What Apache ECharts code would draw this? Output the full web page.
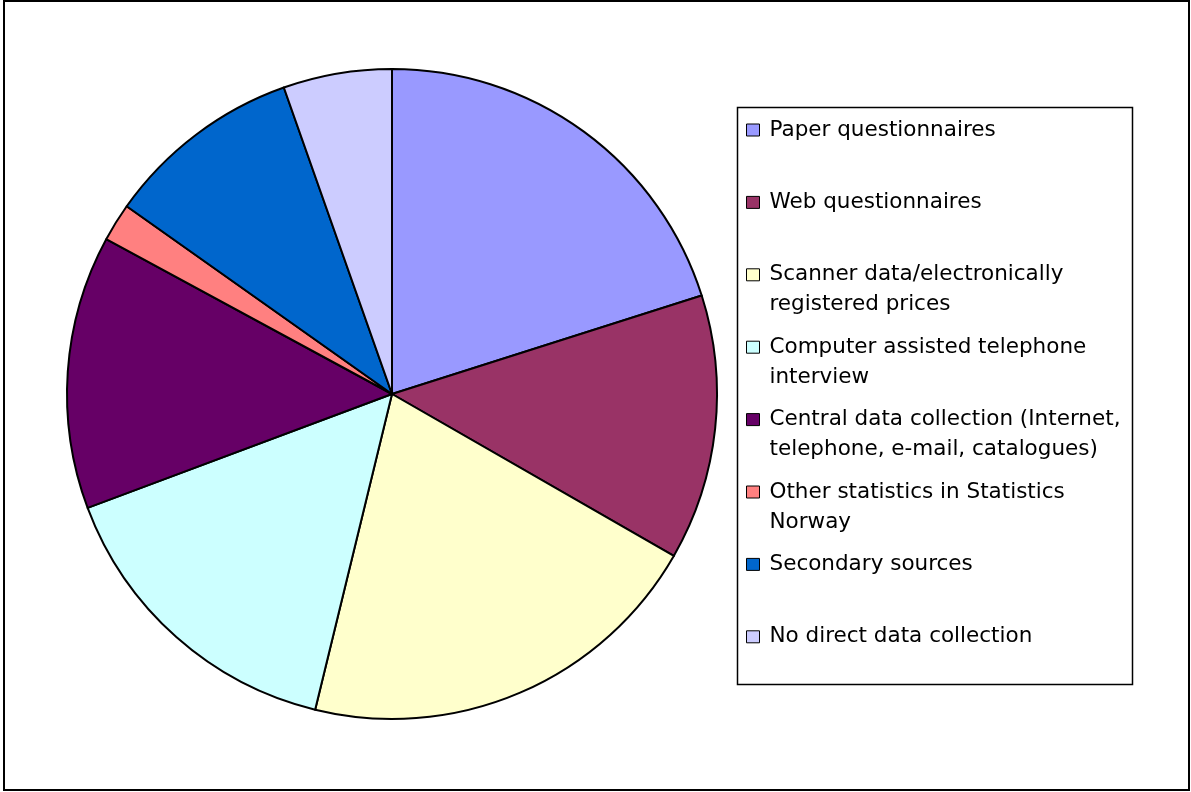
<!DOCTYPE html>
<html>
<head>
<meta charset="utf-8">
<script src="https://cdn.jsdelivr.net/npm/echarts@6/dist/echarts.min.js"></script>
<style>
  html, body { margin: 0; padding: 0; background: #fff; }
  #main { width: 1191px; height: 792px; }
</style>
</head>
<body>
<div id="main"></div>
<script>
// slice names (legend order = clockwise from 12 o'clock)
const categories = [
  "Paper questionnaires",
  "Web questionnaires",
  "Scanner data/electronically\nregistered prices",
  "Computer assisted telephone\ninterview",
  "Central data collection (Internet,\ntelephone, e-mail, catalogues)",
  "Other statistics in Statistics\nNorway",
  "Secondary sources",
  "No direct data collection",
];
// share of each slice (per cent)
const shares = [20.1, 13.2, 20.5, 15.5, 13.6, 1.9, 9.8, 5.4];
const colors = ["#9999FF", "#993366", "#FFFFCC", "#CCFFFF", "#660066", "#FF8080", "#0066CC", "#CCCCFF"];

var chartDom = document.getElementById("main");
var myChart = echarts.init(chartDom);

const FONT = "DejaVu Sans";
const LINE_H = 30;
const SLOT = 72.4; // distance between legend entries

var option = {
  animation: false,
  backgroundColor: "#fff",
  color: colors,
  graphic: [
    {
      type: "rect",
      z: 0,
      shape: { x: 4, y: 1, width: 1185, height: 789 },
      style: { fill: "#fff", stroke: "#000", lineWidth: 2 },
    },
    {
      type: "rect",
      z: 1,
      shape: { x: 737.5, y: 107.5, width: 395, height: 577 },
      style: { fill: "#fff", stroke: "#000", lineWidth: 1.5 },
    },
  ],
  legend: {
    orient: "vertical",
    left: 746,
    top: 130 - 1.5 * LINE_H,
    padding: 0,
    z: 5,
    itemGap: SLOT - 3 * LINE_H,
    icon: "rect",
    itemWidth: 13,
    itemHeight: 12,
    itemStyle: { borderColor: "#000", borderWidth: 1 },
    data: categories,
    selectedMode: false,
    // pad every entry to 3 lines so the first text line sits level with the marker
    formatter: (name) => (name.indexOf("\n") >= 0 ? "\n" + name : "\n" + name + "\n"),
    textStyle: {
      fontFamily: FONT,
      fontSize: 21.5,
      color: "#000",
      lineHeight: LINE_H,
      padding: [0, 0, 0, 5],
    },
  },
  series: [
    {
      type: "pie",
      center: [392, 394],
      radius: 325,
      startAngle: 90,
      clockwise: true,
      label: { show: false },
      labelLine: { show: false },
      emphasis: { disabled: true },
      itemStyle: { borderColor: "#000", borderWidth: 2 },
      data: categories.map((name, i) => ({ name: name, value: shares[i] })),
    },
  ],
};

option && myChart.setOption(option);
</script>
</body>
</html>
